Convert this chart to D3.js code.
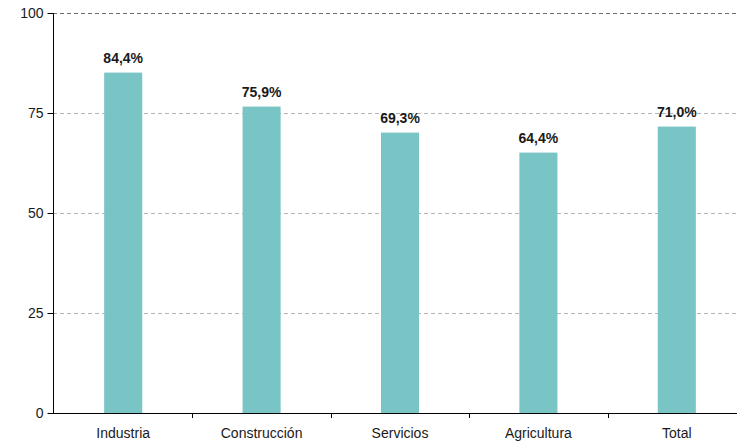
<!DOCTYPE html>
<html>
<head>
<meta charset="utf-8">
<script src="https://cdn.jsdelivr.net/npm/d3@7"></script>
<style>
  body { margin: 0; background: #fff; }
  svg { display: block; font-family: "Liberation Sans", Arial, sans-serif; }
</style>
</head>
<body>
<svg id="chart" width="737" height="444"></svg>
<script>
const categories = ["Industria", "Construcción", "Servicios", "Agricultura", "Total"]
const barValues = [85.1, 76.6, 70.1, 65.1, 71.6]
const valueLabels = ["84,4%", "75,9%", "69,3%", "64,4%", "71,0%"]
const yTicks = [0, 25, 50, 75, 100]

const barColor = "#79c4c4"

var svg = d3.select("#chart")

var x = d3.scaleBand()
    .domain(categories)
    .range([54, 746])
    .paddingInner(0.725)
    .paddingOuter(0.3625)

var y = d3.scaleLinear()
    .domain([0, 100])
    .range([413, 13])

// gridlines
svg.append("g")
    .selectAll("line")
    .data(yTicks.filter(d => d > 0))
    .enter().append("line")
    .attr("x1", 53)
    .attr("x2", 737)
    .attr("y1", d => Math.round(y(d)) + 0.5)
    .attr("y2", d => Math.round(y(d)) + 0.5)
    .attr("stroke", d => d === 100 ? "#6e6e6e" : "#b4b4b4")
    .attr("stroke-width", 1)
    .attr("stroke-dasharray", "4,3")

// bars
svg.append("g")
    .selectAll("rect")
    .data(categories)
    .enter().append("rect")
    .attr("x", d => x(d))
    .attr("width", x.bandwidth())
    .attr("y", (d, i) => y(barValues[i]))
    .attr("height", (d, i) => y(0) - y(barValues[i]))
    .attr("fill", barColor)

// value labels
svg.append("g")
    .selectAll("text")
    .data(categories)
    .enter().append("text")
    .attr("x", d => x(d) + x.bandwidth() / 2)
    .attr("y", (d, i) => y(barValues[i]) - 10)
    .attr("text-anchor", "middle")
    .attr("font-size", 14)
    .attr("font-weight", "bold")
    .attr("fill", "#1a1a1a")
    .text((d, i) => valueLabels[i])

// y axis
var yAxis = svg.append("g")
    .attr("transform", "translate(53.5,0)")
    .call(d3.axisLeft(y).tickValues(yTicks).tickSize(6).tickPadding(4))
yAxis.select(".domain").attr("stroke", "#000").attr("d", "M0," + y(100) + "V" + (y(0) + 0.5))
yAxis.selectAll(".tick line").attr("stroke", "#000")
yAxis.selectAll(".tick text")
    .attr("font-size", 14)
    .attr("fill", "#1a1a1a")
    .style("font-family", "Liberation Sans, Arial, sans-serif")

// x axis
var xAxisG = svg.append("g")
xAxisG.append("line")
    .attr("x1", 53)
    .attr("x2", 737)
    .attr("y1", y(0) + 0.5)
    .attr("y2", y(0) + 0.5)
    .attr("stroke", "#000")

xAxisG.selectAll(".sep")
    .data(d3.range(1, categories.length))
    .enter().append("line")
    .attr("class", "sep")
    .attr("x1", i => Math.round(x.range()[0] + i * x.step()) + 0.5)
    .attr("x2", i => Math.round(x.range()[0] + i * x.step()) + 0.5)
    .attr("y1", y(0))
    .attr("y2", y(0) + 5)
    .attr("stroke", "#000")

xAxisG.selectAll(".cat")
    .data(categories)
    .enter().append("text")
    .attr("class", "cat")
    .attr("x", d => x(d) + x.bandwidth() / 2)
    .attr("y", 438)
    .attr("text-anchor", "middle")
    .attr("font-size", 14)
    .attr("fill", "#1a1a1a")
    .text(d => d)
</script>
</body>
</html>
